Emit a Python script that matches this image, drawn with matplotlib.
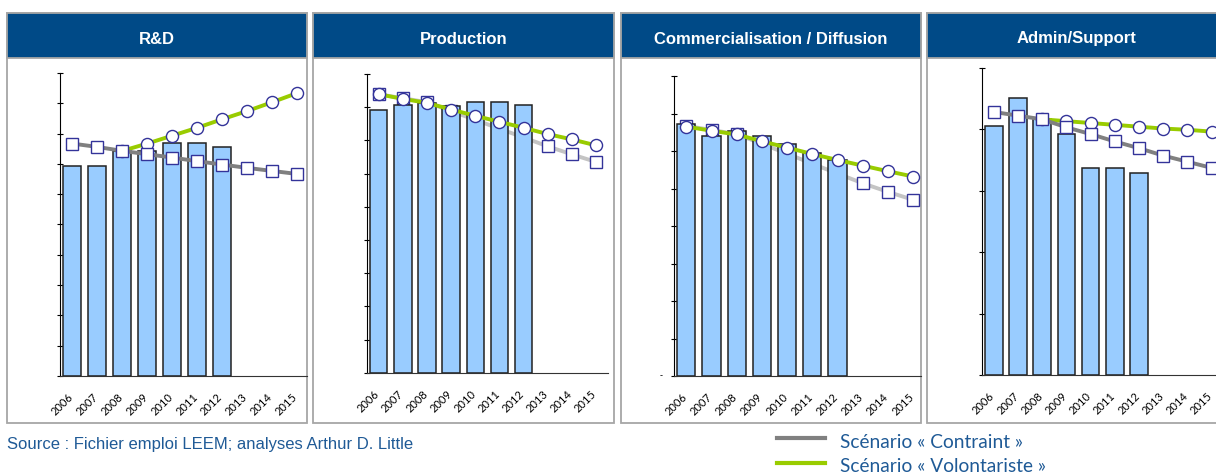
import numpy as np
import matplotlib
matplotlib.use("Agg")
import matplotlib.pyplot as plt
from matplotlib.patches import Rectangle
from matplotlib.lines import Line2D
from matplotlib.transforms import ScaledTranslation

# Données (unités arbitraires, axes sans valeurs)
annees = ["2006", "2007", "2008", "2009", "2010", "2011", "2012", "2013", "2014", "2015"]
titres = ["R&D", "Production", "Commercialisation / Diffusion", "Admin/Support"]

# effectifs observés (barres, 2006-2012)
rd_reel = [6.94, 6.93, 7.44, 7.44, 7.69, 7.69, 7.56]
prod_reel = [7.92, 8.06, 8.13, 8.03, 8.17, 8.17, 8.08]
comm_reel = [6.71, 6.40, 6.54, 6.39, 6.18, 5.96, 5.76]
admin_reel = [4.05, 4.51, 4.16, 3.92, 3.36, 3.36, 3.28]

# scénario « Contraint »
rd_contraint = [7.67, 7.56, 7.43, 7.32, 7.21, 7.09, 6.98, 6.87, 6.77, 6.67]
prod_contraint = [8.39, 8.27, 8.15, 7.88, 7.62, 7.35, 7.09, 6.82, 6.58, 6.35]
comm_contraint = [6.67, 6.56, 6.45, 6.19, 5.93, 5.66, 5.40, 5.14, 4.91, 4.70]
admin_contraint = [4.28, 4.22, 4.16, 4.03, 3.92, 3.80, 3.69, 3.57, 3.47, 3.37]

# scénario « Volontariste »
rd_volont = [None, None, 7.43, 7.67, 7.93, 8.19, 8.47, 8.74, 9.03, 9.33]
prod_volont = [8.39, 8.25, 8.13, 7.93, 7.74, 7.56, 7.38, 7.19, 7.03, 6.85]
comm_volont = [6.65, 6.54, 6.44, 6.26, 6.09, 5.92, 5.76, 5.61, 5.46, 5.32]
admin_volont = [None, None, 4.16, 4.13, 4.10, 4.07, 4.04, 4.01, 3.99, 3.96]

y_max = [10, 9, 8, 5]

reels = [rd_reel, prod_reel, comm_reel, admin_reel]
contraints = [rd_contraint, prod_contraint, comm_contraint, admin_contraint]
volonts = [rd_volont, prod_volont, comm_volont, admin_volont]

# mise en page (pixels)
W, H = 1216, 473
cadres = [(7, 307), (313, 614), (621, 921), (927, 1227)]
axes_px = [  # (x axe y, pas entre années, haut, base)
    (60, 24.9, 73, 376),
    (366.7, 24.13, 74, 372.7),
    (673.7, 25.2, 76, 376),
    (981.7, 24.2, 67.7, 375),
]
gris_contraint = ["#808080", "#C4C4C4", "#C4C4C4", "#808080"]
contraint_derriere = [False, True, True, False]

bleu_titre = "#004A87"
vert = "#99CC00"
bord_marqueur = "#333399"

fig = plt.figure(figsize=(W / 100, H / 100), dpi=100)


def fx(x):
    return x / W


def fy(y):
    return 1 - y / H


for i in range(4):
    x0, x1 = cadres[i]
    # cadre du panneau
    fig.patches.append(Rectangle((fx(x0), fy(423)), fx(x1 - x0), (423 - 13) / H,
                                 transform=fig.transFigure, facecolor="white",
                                 edgecolor="#A6A6A6", lw=1.3, zorder=-2))
    fig.patches.append(Rectangle((fx(x0), fy(58)), fx(x1 - x0), 45 / H,
                                 transform=fig.transFigure, facecolor=bleu_titre,
                                 edgecolor="#A6A6A6", lw=1.3, zorder=-1))
    fig.text(fx((x0 + x1) / 2), fy(39), titres[i], color="white", fontsize=12,
             fontweight="bold", family="Liberation Sans", ha="center", va="center")

    ax_x, pas, haut, base = axes_px[i]
    droite = min(ax_x + 10 * pas, x1)
    ax = fig.add_axes([fx(ax_x), fy(base), fx(droite - ax_x), (base - haut) / H])
    ax.set_zorder(2)
    ax.patch.set_visible(False)
    x = np.arange(len(annees))
    ax.set_xlim(-0.5, -0.5 + (droite - ax_x) / pas)
    ax.set_ylim(0, y_max[i])

    reel = reels[i]
    ax.bar(x[:len(reel)], reel, width=0.72, color="#99CCFF", edgecolor="#222222",
           lw=1.1, zorder=2)

    c = np.array(contraints[i], dtype=float)
    v = np.array(volonts[i], dtype=float)
    if contraint_derriere[i]:
        zc, zv = 1, 4
    else:
        zc, zv = 4, 3
    ax.plot(x, c, color=gris_contraint[i], lw=2.8, marker="s", ms=8.2,
            mfc="white", mec=bord_marqueur, mew=1.0, zorder=zc, clip_on=False)
    ax.plot(x, v, color=vert, lw=2.8, marker="o", ms=8.7,
            mfc="white", mec=bord_marqueur, mew=1.0, zorder=zv, clip_on=False)

    for s in ["top", "right"]:
        ax.spines[s].set_visible(False)
    ax.spines["left"].set_color("black")
    ax.spines["bottom"].set_color("#333333")
    ax.set_yticks(np.arange(0, y_max[i] + 1))
    ax.set_yticklabels([])
    ax.tick_params(axis="y", direction="inout", length=5, width=0.8)
    ax.set_xticks(x)
    ax.set_xticklabels(annees, rotation=45, ha="right", va="top",
                       rotation_mode="anchor", fontsize=8, family="Lato")
    ax.tick_params(axis="x", length=0, pad=11)
    for lab in ax.get_xticklabels():
        lab.set_transform(lab.get_transform() + ScaledTranslation(-5 / 100, 0, fig.dpi_scale_trans))
    if i == 2:
        ax.text(-13 / pas - 0.5, 0, "-", fontsize=6, ha="center", va="center")

# source et légende
fig.text(fx(7), fy(444), "Source : Fichier emploi LEEM; analyses Arthur D. Little",
         fontsize=12, family="Liberation Sans", color="#1F5A96", va="center")
fig.lines.append(Line2D([fx(777), fx(825)], [fy(438), fy(438)], transform=fig.transFigure,
                        color="#808080", lw=3))
fig.lines.append(Line2D([fx(777), fx(825)], [fy(463), fy(463)], transform=fig.transFigure,
                        color=vert, lw=3))
fig.text(fx(840), fy(442), "Scénario « Contraint »", fontsize=13.8, family="Lato",
         color="#1F5A96", va="center")
fig.text(fx(840), fy(466), "Scénario « Volontariste »", fontsize=13.8, family="Lato",
         color="#1F5A96", va="center")

fig.savefig("out.png", dpi=100)
